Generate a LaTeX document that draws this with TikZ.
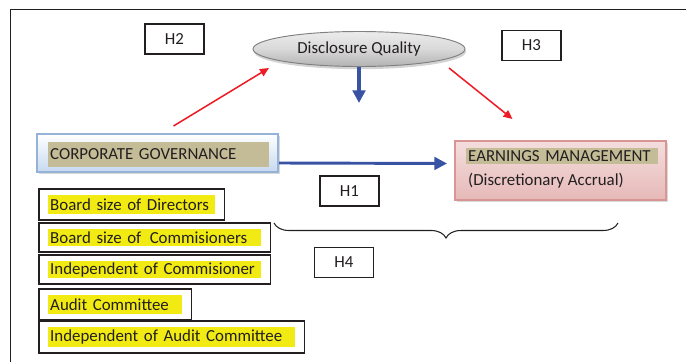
\documentclass[tikz,border=0pt]{standalone}
\usepackage{fontspec}
\setmainfont{Carlito}
\usetikzlibrary{arrows.meta,shapes.geometric,shadows,fit,decorations.pathreplacing}
\definecolor{txtgray}{RGB}{35,31,32}
\definecolor{cgblue}{RGB}{149,179,215}
\definecolor{cglight}{RGB}{198,217,241}
\definecolor{tan}{RGB}{196,188,150}
\definecolor{emred}{RGB}{217,149,148}
\definecolor{emtop}{RGB}{243,222,221}
\definecolor{embottom}{RGB}{230,185,184}
\definecolor{hlyellow}{RGB}{242,235,19}
\definecolor{arrowblue}{RGB}{57,83,164}
\definecolor{arrowred}{RGB}{237,28,36}
\tikzset{
    every node/.style = {font=\fontsize{14.4}{17}\selectfont, text=txtgray},
    hbox/.style = {draw=txtgray, line width=1.2pt, minimum width=1.77cm, minimum height=0.9cm, inner sep=0pt},
    hl/.style = {fill=#1, anchor=west, align=left, inner xsep=0.06cm, inner ysep=0pt},
    itembox/.style = {draw=txtgray, line width=1.3pt, inner xsep=0.27cm, inner ysep=0.18cm},
    redarrow/.style = {draw=arrowred, line width=1.3pt, -{Triangle[length=0.27cm, width=0.24cm]}},
    bluearrow/.style = {draw=arrowblue, -{Triangle[length=0.38cm, width=0.38cm]}}
}
\begin{document}
\begin{tikzpicture}[x = 0.03cm, y = -0.03cm]
    \useasboundingbox (0, 0) rectangle (686, 362);
    % frame
    \draw [txtgray, line width=0.8pt] (10.5, 362) -- (10.5, 9) -- (686, 9);

    % hypotheses
    \node [hbox] (h2) at (174.5, 39) {H2};
    \node [hbox] (h3) at (531.5, 45.5) {H3};
    \node [hbox] (h1) at (349.5, 191) {H1};
    \node [hbox] (h4) at (344, 262.5) {H4};

    % disclosure quality
    \node [ellipse, draw=gray, line width=0.8pt, top color=gray!15, bottom color=gray!60, middle color=gray!30,
        drop shadow={shadow xshift=0.03cm, shadow yshift=-0.08cm, opacity=0.35},
        minimum width=6.36cm, minimum height=1.05cm, inner sep=0pt] (dq) at (359, 49) {Disclosure Quality};

    % corporate governance
    \node [draw=cgblue, line width=1.7pt, top color=white, bottom color=cglight,
        drop shadow={shadow xshift=0.05cm, shadow yshift=-0.07cm, opacity=0.3},
        minimum width=7.23cm, minimum height=1.14cm] (cg) at (157.5, 153) {};
    \node [hl=tan, text width=6.51cm, minimum height=0.75cm] (cghl) at (48, 154.5) {CORPORATE GOVERNANCE};

    % earnings management
    \node [draw=emred, line width=1.7pt, top color=emtop, bottom color=embottom,
        drop shadow={shadow xshift=0.05cm, shadow yshift=-0.07cm, opacity=0.3},
        minimum width=6.33cm, minimum height=1.77cm] (em) at (560.5, 170.5) {};
    \node [hl=tan, text width=5.62cm, minimum height=0.48cm] (emhl) at (466, 156) {\mbox{EARNINGS MANAGEMENT}};
    \node [anchor=west, inner xsep=0.06cm, inner ysep=0pt] (emsub) at (466, 181) {(Discretionary Accrual)};

    % governance items
    \node [hl=hlyellow, text width=4.89cm, minimum height=0.57cm] (dir) at (48, 204.5) {Board size of Directors};
    \node [hl=hlyellow, text width=6.27cm, minimum height=0.51cm] (com) at (48, 237.5) {Board size of\, Commisioners};
    \node [hl=hlyellow, text width=6.27cm, minimum height=0.51cm] (indcom) at (48, 269.5) {Independent of Commisioner};
    \node [hl=hlyellow, text width=3.9cm, minimum height=0.57cm] (aud) at (48, 304.5) {Audit Committee};
    \node [hl=hlyellow, text width=7.29cm, minimum height=0.6cm] (indaud) at (48, 337) {Independent of Audit Committee};
    \foreach \item in {dir, com, indcom, aud, indaud}
        \node [itembox, fit=(\item)] (\item box) {};

    % arrows
    \draw [redarrow] ([shift={(16, -7)}]cg.north) -- ([shift={(-90, 19)}]dq.center);
    \draw [redarrow] ([shift={(90, 19)}]dq.center) -- ([shift={(-48, -21)}]em.north);
    \draw [bluearrow, line width=3.4pt] (dq.south) -- ++(0, 36);
    \draw [bluearrow, line width=2.5pt] ([shift={(0, 10)}]cg.east) -- ([shift={(-7, -7)}]em.west);

    % brace
    \coordinate (bl) at (274, 223);
    \coordinate (br) at (618, 223);
    \draw [txtgray, line width=0.9pt, decorate, decoration={brace, mirror, amplitude=0.45cm}] (bl) -- (br);
\end{tikzpicture}
\end{document}
